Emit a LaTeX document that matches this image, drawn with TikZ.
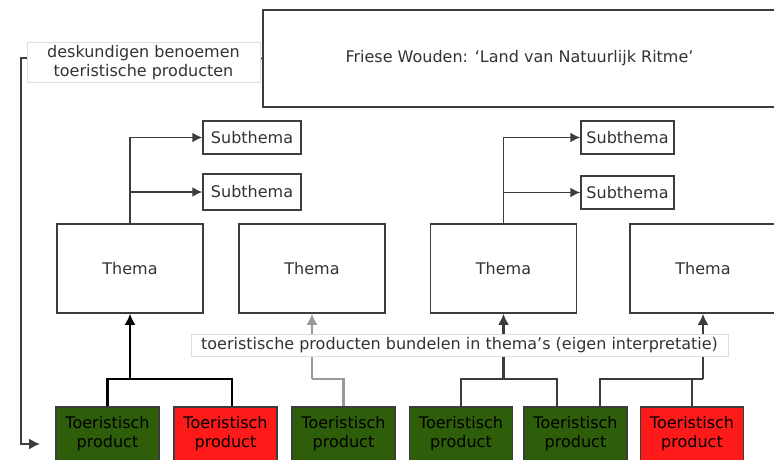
\documentclass[tikz,border=0pt]{standalone}
\usepackage{fontspec}
\setmainfont{DejaVu Sans}
\usetikzlibrary{arrows.meta}
\definecolor{boxline}{HTML}{3C3C3C}
\definecolor{prodgreen}{HTML}{2E5E0A}
\definecolor{prodred}{HTML}{FF1A1A}
\definecolor{txt}{HTML}{333333}
\definecolor{noteline}{HTML}{DDDDDD}
\definecolor{greyline}{HTML}{999999}

\begin{document}
\begin{tikzpicture}[x=1pt,y=-1pt,
  font=\fontsize{16}{19}\selectfont, text=txt,
  box/.style={draw=boxline, line width=1.5pt, fill=white, inner sep=0pt, align=center},
  themebox/.style={box, minimum width=146pt, minimum height=89pt},
  subbox/.style={box, minimum height=33pt},
  prodbox/.style={box, draw=boxline, line width=1.2pt, minimum width=103pt, minimum height=54pt, text=black},
  notebox/.style={draw=noteline, line width=1pt, fill=white, inner sep=0pt, align=center},
  tip/.style={-{Latex[length=11pt,width=11pt]}},
  sublink/.style={draw=boxline, line width=1.6pt, -{Latex[length=10pt,width=10pt]}},
  prodlink/.style={draw=black, line width=2.2pt},
  greylink/.style={draw=greyline, line width=2.2pt},
  darklink/.style={draw=boxline, line width=2.2pt},
  fblink/.style={draw=boxline, line width=1.6pt}
]
\useasboundingbox (0,0) rectangle (774,460);
\clip (0,0) rectangle (774,460);

% top level
\node[box, minimum width=513pt, minimum height=97pt] (top) at (519.5,58.5)
  {Friese Wouden: ‘Land van Natuurlijk Ritme’};

% themes
\node[themebox] (t1) at (130,268.5) {Thema};
\node[themebox] (t2) at (312,268.5) {Thema};
\node[themebox] (t3) at (503.5,268.5) {Thema};
\node[themebox] (t4) at (703,268.5) {Thema};

% subthemes
\node[subbox, minimum width=98pt] (s1) at (252,137.5) {Subthema};
\node[subbox, minimum width=98pt, minimum height=36pt] (s2) at (252,192) {Subthema};
\node[subbox, minimum width=93pt] (s3) at (627.5,137.5) {Subthema};
\node[subbox, minimum width=93pt] (s4) at (627.5,192.5) {Subthema};

% products
\node[prodbox, fill=prodgreen] (p1) at (107.5,434) {Toeristisch\\product};
\node[prodbox, fill=prodred]   (p2) at (225.5,434) {Toeristisch\\product};
\node[prodbox, fill=prodgreen] (p3) at (343.5,434) {Toeristisch\\product};
\node[prodbox, fill=prodgreen] (p4) at (461,434) {Toeristisch\\product};
\node[prodbox, fill=prodgreen] (p5) at (575.5,434) {Toeristisch\\product};
\node[prodbox, fill=prodred]   (p6) at (692,434) {Toeristisch\\product};

% theme -> subtheme
\draw[sublink] (t1.north) |- (s1.west);
\draw[sublink] (t1.north |- s2.west) -- (s2.west);
\draw[sublink] (t3.north) |- (s3.west);
\draw[sublink] (t3.north |- s4.west) -- (s4.west);

% products bundled into themes
\coordinate (j1) at (130,379);
\coordinate (j2) at (312,379);
\coordinate (j3) at (503.5,379);
\coordinate (j4) at (703,379);

\draw[prodlink] (p1.north) |- (j1);
\draw[prodlink] ([xshift=6.5pt]p2.north) |- (j1);
\draw[prodlink, tip] (j1) -- (t1.south);

\draw[greylink] (p3.north) |- (j2);
\draw[greylink, tip] (j2) -- (t2.south);

\draw[darklink] (p4.north) |- (j3);
\draw[darklink] ([xshift=-18.5pt]p5.north) |- (j3);
\draw[darklink, tip] (j3) -- (t3.south);

\draw[darklink] ([xshift=24.5pt]p5.north) |- (j4);
\draw[darklink] (p6.north) |- (j4);
\draw[darklink, tip] (j4) -- (t4.south);

% experts name products: feedback to the product row
\coordinate (fb1) at (21,58);
\coordinate (fb2) at (40,444);
\draw[fblink, -{Latex[length=11pt,width=11pt]}] (top.west) -- (fb1) |- (fb2);

% notes on the connectors
\node[notebox, minimum width=233pt, minimum height=40pt] (n1) at (143.5,63)
  {deskundigen benoemen\\toeristische producten};
\node[notebox, minimum width=537pt, minimum height=22pt] (n2) at (459.5,345)
  {toeristische producten bundelen in thema’s (eigen interpretatie)};
\end{tikzpicture}
\end{document}
